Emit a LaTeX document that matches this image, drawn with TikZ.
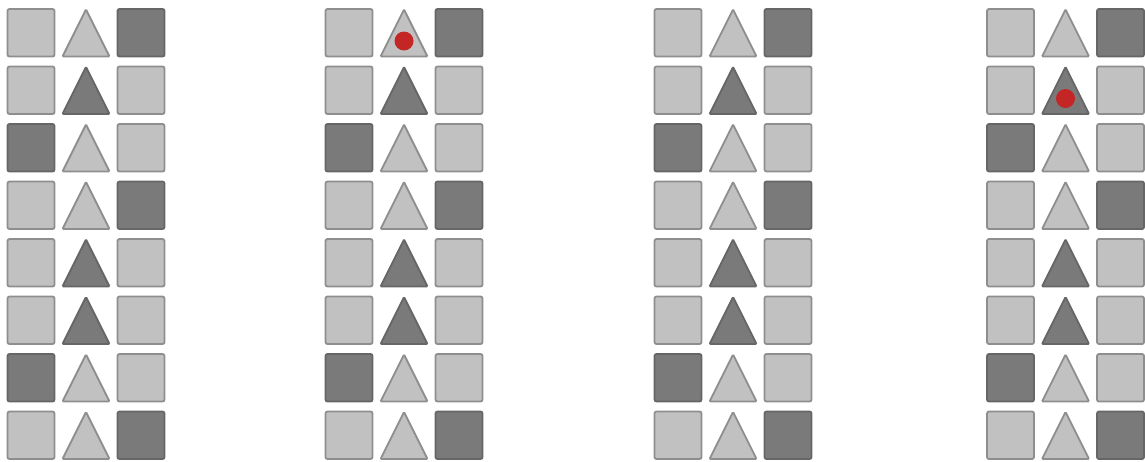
\documentclass[tikz,border=0pt]{standalone}
\usepackage{tikz}
\definecolor{lightcell}{RGB}{193,193,193}
\definecolor{darkcell}{RGB}{122,122,122}
\definecolor{lightedge}{RGB}{142,142,142}
\definecolor{darkedge}{RGB}{102,102,102}
\definecolor{dotred}{RGB}{196,38,38}
\tikzset{
  lt/.style={fill=lightcell,draw=lightedge,line width=1.8pt,rounded corners=2pt},
  dk/.style={fill=darkcell,draw=darkedge,line width=1.8pt,rounded corners=2pt},
  reddot/.style={fill=dotred},
}

\begin{document}
\begin{tikzpicture}[x=1pt,y=-1pt]
     \useasboundingbox (0,0) rectangle (1145,461);
     % four panels, eight rows each: square, triangle, square
     \foreach \px in {7.5,325.5,654.5,987} {
       \foreach \row/\sa/\sb/\sc in {0/lt/lt/dk,1/lt/dk/lt,2/dk/lt/lt,3/lt/lt/dk,4/lt/dk/lt,5/lt/dk/lt,6/dk/lt/lt,7/lt/lt/dk} {
         \pgfmathsetmacro\ty{9+\row*57.5}
         \draw[\sa] (\px,\ty) rectangle (\px+47,\ty+47.5);
         \draw[\sb,rounded corners=1pt] (\px+55,\ty+47.5) -- (\px+78.5,\ty+0.5) -- (\px+102,\ty+47.5) -- cycle;
         \draw[\sc] (\px+110,\ty) rectangle (\px+157,\ty+47.5);
       }
     }
     % red markers
     \fill[reddot] (325.5+78.5,9+32) circle (9.5);
     \fill[reddot] (987+78.5,66.5+32) circle (9.5);
   \end{tikzpicture}
\end{document}
